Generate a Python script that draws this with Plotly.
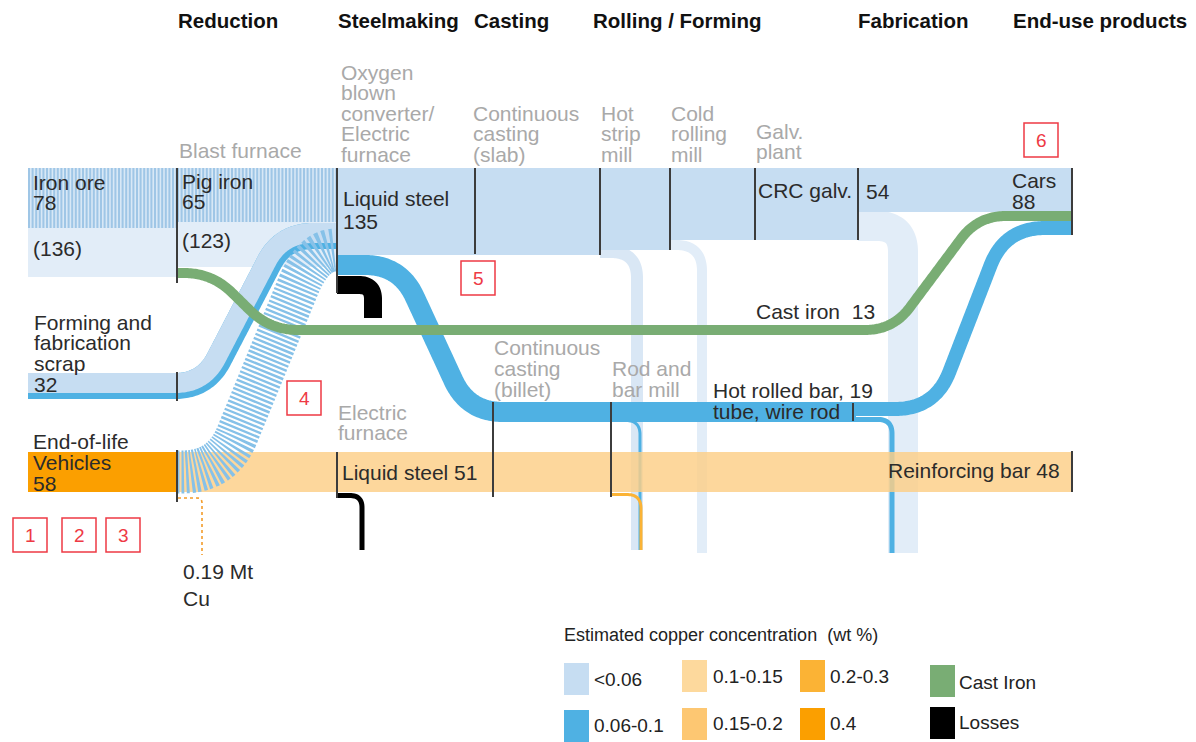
import numpy as np
import plotly.graph_objects as go

# ======================= DATA =======================
stage_headers = ["Reduction", "Steelmaking", "Casting", "Rolling / Forming",
                 "Fabrication", "End-use products"]

# stocks / flows (Mt)
iron_ore, iron_ore_gross = 78, 136
pig_iron, pig_iron_gross = 65, 123
forming_scrap = 32
eol_vehicles = 58
bof_liquid_steel = 135
eaf_liquid_steel = 51
cast_iron = 13
hot_rolled_bar = 19
crc_galv = 54
cars = 88
reinforcing_bar = 48
copper_in_scrap = 0.19

process_bf = ["Blast furnace"]
process_bof = ["Oxygen", "blown", "converter/", "Electric", "furnace"]
process_slab = ["Continuous", "casting", "(slab)"]
process_hsm = ["Hot", "strip", "mill"]
process_crm = ["Cold", "rolling", "mill"]
process_galv = ["Galv.", "plant"]
process_eaf = ["Electric", "furnace"]
process_billet = ["Continuous", "casting", "(billet)"]
process_rod = ["Rod and", "bar mill"]

legend_title = "Estimated copper concentration  (wt %)"
conc_bins = ["<0.06", "0.06-0.1", "0.1-0.15", "0.15-0.2", "0.2-0.3", "0.4"]
other_keys = ["Cast Iron", "Losses"]
callouts = ["1", "2", "3", "4", "5", "6"]

# ======================= STYLE =======================
W, H = 1196, 742
FONT = "Liberation Sans, Arial, sans-serif"
TS = 21  # regular label size
DARK = "#2b2b2b"
GREY = "#a9a9a9"
RED = "#ee3a44"
BIN_COLORS = ["#c6ddf2", "#4fb1e3", "#fdd99d", "#fdc772", "#fbb335", "#fb9f00"]
LT, BL, P1, P2, P3, P4 = BIN_COLORS
GREEN = "#79ad74"
BLACK = "#000000"
PALE = "#e2edf8"
PALE2 = "#d9e7f5"
HATCH_BG = "#d8e8f6"
HATCH_FG = "#9fc6e6"
HATCH_BLUE = "#86c1e8"
NODE_LINE = "#3c3c3c"

# column positions (px in figure space)
X = dict(ore=28, bf=177, steel=337, slab=475, hsm=600, crm=670, galv=755,
         fab=858, end=1072, billet=493, rod=611, hrb=853)
TOP = 168

fig = go.Figure()


def add_line(xs, ys, color, width, dash="solid", opacity=1.0):
    fig.add_trace(go.Scatter(x=xs, y=ys, mode="lines",
                             line=dict(color=color, width=width, dash=dash, simplify=False),
                             opacity=opacity, hoverinfo="skip", showlegend=False))


def add_poly(xs, ys, color):
    fig.add_trace(go.Scatter(x=list(xs) + [xs[0]], y=list(ys) + [ys[0]], mode="lines",
                             fill="toself", fillcolor=color, line=dict(width=0),
                             hoverinfo="skip", showlegend=False))


def rect(x0, x1, y0, y1, color):
    add_poly([x0, x1, x1, x0], [y0, y0, y1, y1], color)


def rpath(pts, cut, n=24):
    """polyline with rounded corners (quadratic bezier at each corner)"""
    P = [np.asarray(p, float) for p in pts]
    out = [P[0]]
    for i in range(1, len(P) - 1):
        a, v, b = P[i - 1], P[i], P[i + 1]
        la, lb = np.linalg.norm(a - v), np.linalg.norm(b - v)
        fa = 0.5 if i > 1 else 0.95
        fb = 0.5 if i < len(P) - 2 else 0.95
        d1, d2 = min(cut, la * fa), min(cut, lb * fb)
        A = v + (a - v) / la * d1
        B = v + (b - v) / lb * d2
        t = np.linspace(0, 1, n)[:, None]
        out.extend((1 - t) ** 2 * A + 2 * (1 - t) * t * v + t ** 2 * B)
    out.append(P[-1])
    arr = np.array(out)
    seg = np.hypot(np.diff(arr[:, 0]), np.diff(arr[:, 1]))
    s = np.concatenate([[0], np.cumsum(seg)])
    keep = np.concatenate([[True], seg > 1e-9])
    arr, s = arr[keep], s[keep]
    ss = np.linspace(0, s[-1], max(int(s[-1] / 1.5), 2))
    return np.interp(ss, s, arr[:, 0]), np.interp(ss, s, arr[:, 1])


def offset(x, y, d):
    dx, dy = np.gradient(x), np.gradient(y)
    n = np.hypot(dx, dy)
    return x - d * dy / n, y + d * dx / n


def flow(pts, cut, color, width, dash="solid", opacity=1.0):
    xs, ys = rpath(pts, cut)
    add_line(xs, ys, color, width, dash, opacity)
    return xs, ys


# ---------- pale gross-mass regions ----------
rect(X["ore"], X["bf"], 228, 277, PALE)
rect(X["bf"], X["steel"], 222, 267, PALE)

# ---------- process losses / scrap returns (pale) ----------
flow([(X["hsm"], 252), (637, 252), (637, 550)], 26, PALE2, 12)
flow([(X["crm"], 245), (702, 245), (702, 553)], 26, PALE, 10)
flow([(X["fab"], 226), (903, 226), (903, 553)], 26, PALE, 30)
flow([(X["hrb"], 419.5), (892, 419.5), (892, 553)], 14, BL, 5)
flow([(X["rod"], 420.5), (640, 420.5), (640, 550)], 14, BL, 3)
flow([(X["rod"], 494.5), (641, 494.5), (641, 550)], 14, P3, 3)

# ---------- EAF route (peach band) & EOL vehicles ----------
add_line([X["bf"], X["end"]], [472, 472], "rgba(252,206,134,0.82)", 40)
rect(X["ore"], X["bf"], 452, 492, P4)

# ---------- iron ore / pig iron (hatched) ----------
add_line([X["ore"], X["bf"]], [198, 198], HATCH_BG, 60)
add_line([X["ore"], X["bf"]], [198, 198], HATCH_FG, 60, dash="2px,1.6px")
add_line([X["bf"], X["steel"]], [195, 195], HATCH_BG, 54)
add_line([X["bf"], X["steel"]], [195, 195], HATCH_FG, 54, dash="2px,1.6px")

# ---------- BOF liquid steel main band ----------
steps = [(X["steel"], 255), (X["hsm"], 250), (X["crm"], 240), (X["fab"], 212), (X["end"], None)]
px, py = [], []
for i in range(len(steps) - 1):
    px += [steps[i][0], steps[i + 1][0]]
    py += [steps[i][1], steps[i][1]]
add_poly([X["steel"], X["end"]] + px[::-1], [TOP, TOP] + py[::-1], LT)

# ---------- forming & fabrication scrap ----------
sx, sy = flow([(X["ore"], 386), (205, 386), (283, 236), (X["steel"], 236)], 30, BL, 26)
ox, oy = offset(sx, sy, -3)
add_line(ox, oy, LT, 20)

# ---------- EOL vehicle scrap to BOF (hatched) ----------
flow([(X["bf"], 472), (222, 472), (313, 250), (X["steel"], 250)], 40, HATCH_BLUE, 43,
     dash="2.4px,2.1px")

# ---------- hot rolled bar route ----------
flow([(X["steel"], 265), (400, 265), (468, 412), (X["hrb"] + 3, 412)], 35, BL, 20)
flow([(X["hrb"], 409), (935, 409), (1005, 228), (X["end"], 228)], 40, BL, 14)

# ---------- losses ----------
flow([(X["steel"], 285), (373, 285), (373, 318)], 14, BLACK, 18)
flow([(X["steel"], 495.5), (362, 495.5), (362, 550)], 12, BLACK, 5)
flow([(178, 498), (202, 498), (202, 555)], 5, "#f39c2a", 1.6, dash="dot")

# ---------- cast iron ----------
flow([(X["bf"], 273), (212, 273), (270, 330), (893, 330), (978, 216), (X["end"], 216)],
     28, GREEN, 10)

# ---------- node lines ----------
node_lines = [
    (X["bf"], 168, 283), (X["bf"], 372, 401), (X["bf"], 450, 502),
    (X["steel"], 168, 293), (X["steel"], 452, 498),
    (X["slab"], 168, 254), (X["hsm"], 168, 255), (X["crm"], 168, 250),
    (X["galv"], 168, 240), (X["fab"], 168, 240), (X["end"], 168, 235),
    (X["billet"], 402, 497), (X["rod"], 402, 497), (X["hrb"], 403, 421),
    (X["end"], 451, 492),
]
for x, y0, y1 in node_lines:
    fig.add_shape(type="line", x0=x, x1=x, y0=y0, y1=y1, xref="x", yref="y",
                  line=dict(color=NODE_LINE, width=2), layer="above")


# ---------- text ----------
def txt(x, y, s, size=TS, color=DARK, anchor="left", bold=False):
    fig.add_annotation(x=x, y=y, xref="x", yref="y", showarrow=False,
                       text=f"<b>{s}</b>" if bold else s, xanchor=anchor, yanchor="middle",
                       font=dict(family=FONT, size=size, color=color), borderpad=0)


def block(x, y0, lines, dy=20.5, **kw):
    for i, s in enumerate(lines):
        txt(x, y0 + i * dy, s, **kw)


header_x = [177, 337, 473, 592, 857, 1012]
for hx, h in zip(header_x, stage_headers):
    txt(hx, 20, h, size=20.5, color="#111111", bold=True)

block(178, 150, process_bf, color=GREY)
block(340, 72, process_bof, color=GREY)
block(472, 113, process_slab, color=GREY)
block(600, 113, process_hsm, color=GREY)
block(670, 113, process_crm, color=GREY)
block(755, 131, process_galv, dy=20, color=GREY)
block(337, 412, process_eaf, dy=20.5, color=GREY)
block(493, 347, process_billet, dy=21, color=GREY)
block(611, 368, process_rod, dy=21, color=GREY)

block(32, 182, ["Iron ore", f"{iron_ore}"], dy=20)
txt(32, 248, f"({iron_ore_gross})")
block(181, 181, ["Pig iron", f"{pig_iron}"], dy=20.5)
txt(181, 240, f"({pig_iron_gross})")
block(342, 198, ["Liquid steel", f"{bof_liquid_steel}"], dy=23)
block(33, 322, ["Forming and", "fabrication", "scrap", f"{forming_scrap}"], dy=20.7)
block(32, 441, ["End-of-life", "Vehicles", f"{eol_vehicles}"], dy=21)
txt(876, 311, f"Cast iron  {cast_iron}", anchor="right")
txt(712, 390, f"Hot rolled bar, {hot_rolled_bar}")
txt(712, 411, "tube, wire rod")
txt(341, 472, f"Liquid steel {eaf_liquid_steel}")
txt(1061, 470, f"Reinforcing bar {reinforcing_bar}", anchor="right")
txt(757, 190, "CRC galv.")
txt(865, 191, f"{crc_galv}")
block(1011, 180, ["Cars", f"{cars}"], dy=21)
block(182, 571, [f"{copper_in_scrap} Mt", "Cu"], dy=27)

# ---------- callout boxes ----------
callout_pos = [(13, 518), (62, 518), (106, 518), (287, 381), (461, 261), (1024, 123)]
for (bx, by), c in zip(callout_pos, callouts):
    fig.add_shape(type="rect", x0=bx, x1=bx + 34, y0=by, y1=by + 34, xref="x", yref="y",
                  line=dict(color=RED, width=1.5), fillcolor="rgba(0,0,0,0)", layer="above")
    txt(bx + 17, by + 17, c, size=19, color=RED, anchor="center")

# ---------- legend ----------
txt(563, 635, legend_title, size=18, color="#222222")
leg_pos = [(564, 663, 593, 679), (564, 710, 593, 725), (682, 660, 712, 676),
           (682, 708, 712, 723), (800, 660, 829, 676), (800, 708, 829, 723)]
for (sx0, sy0, tx, ty), lab, col in zip(leg_pos, conc_bins, BIN_COLORS):
    fig.add_shape(type="rect", x0=sx0, x1=sx0 + 25, y0=sy0, y1=sy0 + 32, xref="x", yref="y",
                  line=dict(width=0), fillcolor=col, layer="above")
    txt(tx, ty, lab, size=19, color="#222222")
other_pos = [(930, 665, 958, 682), (930, 707, 958, 722)]
for (sx0, sy0, tx, ty), lab, col in zip(other_pos, other_keys, [GREEN, BLACK]):
    fig.add_shape(type="rect", x0=sx0, x1=sx0 + 25, y0=sy0, y1=sy0 + 32, xref="x", yref="y",
                  line=dict(width=0), fillcolor=col, layer="above")
    txt(tx, ty, lab, size=19, color="#222222")

fig.update_layout(
    width=W, height=H, margin=dict(l=0, r=0, t=0, b=0),
    paper_bgcolor="white", plot_bgcolor="white", showlegend=False,
    xaxis=dict(range=[0, W], visible=False, fixedrange=True),
    yaxis=dict(range=[H, 0], visible=False, fixedrange=True),
)

fig.write_html("out.html", config={"displayModeBar": False},
               post_script="document.body.style.margin='0';")
